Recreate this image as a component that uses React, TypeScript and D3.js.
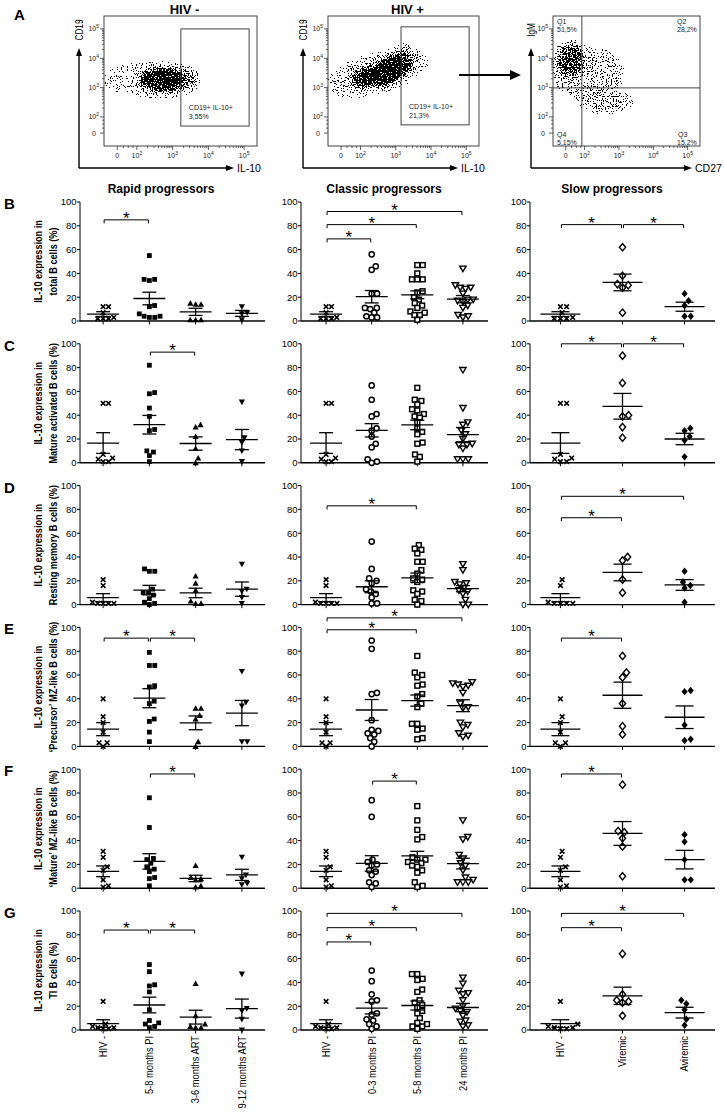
import React from "react";
import * as d3 from "d3";

// ---------- panel A (flow cytometry) ----------
const flowDomainX = [1.08, 5.36];
const flowDomainY = [1.01, 5.44];
const flowDecades = [2, 3, 4, 5];
const flowZero = 1.45;

const gateHivNeg = [3.23, 5.14, 1.69, 5.0];
const gateHivPos = [3.15, 5.08, 1.73, 5.07];
const gateTextHivNeg = ["CD19+ IL-10+", "3,55%"];
const gateTextHivPos = ["CD19+ IL-10+", "21,3%"];
const quadSplit = [1.92, 2.99];
const quadLabels = [
  ["Q1", "51,5%"],
  ["Q2", "28,2%"],
  ["Q3", "15,2%"],
  ["Q4", "5,15%"],
];

// event clouds: centre / spread in decades, rotation in degrees, density 0..1
const cloudHivNeg = [
  { cx: 2.72, cy: 3.27, rx: 0.55, ry: 0.3, rot: 0, a: 1 },
  { cx: 2.85, cy: 3.27, rx: 0.8, ry: 0.45, rot: 0, a: 0.36 },
  { cx: 2.45, cy: 3.27, rx: 1.35, ry: 0.55, rot: 0, a: 0.13 },
];
const cloudHivPos = [
  { cx: 2.85, cy: 3.6, rx: 0.6, ry: 0.38, rot: -30, a: 1 },
  { cx: 2.4, cy: 3.42, rx: 0.7, ry: 0.33, rot: -15, a: 0.7 },
  { cx: 2.5, cy: 3.5, rx: 1.45, ry: 0.65, rot: -15, a: 0.15 },
  { cx: 3.3, cy: 4.0, rx: 0.3, ry: 0.45, rot: 0, a: 0.22 },
];
const cloudQuad = [
  { cx: 1.6, cy: 3.95, rx: 0.42, ry: 0.55, rot: 0, a: 0.5 },
  { cx: 2.1, cy: 3.5, rx: 1.0, ry: 0.85, rot: 0, a: 0.16 },
  { cx: 2.6, cy: 2.55, rx: 0.75, ry: 0.35, rot: 0, a: 0.22 },
];

// ---------- panels B-G ----------
const rowLetters = ["B", "C", "D", "E", "F", "G"];
const yTitleTop = "IL-10 expression in";
const yTitleBottom = [
  "total B cells (%)",
  "Mature activated B cells (%)",
  "Resting memory B cells (%)",
  "\u2018Precursor\u2019 MZ-like B cells (%)",
  "\u2018Mature\u2019 MZ-like B cells (%)",
  "TI B cells (%)",
];
const rapidGroups = ["HIV -", "5-8 months PI", "3-6 months ART", "9-12 months ART"];
const classicGroups = ["HIV -", "0-3 months PI", "5-8 months PI", "24 months PI"];
const slowGroups = ["HIV -", "Viremic", "Aviremic"];
const yTicks = [0, 20, 40, 60, 80, 100];

// values per row B..G ; stats = [mean, sem]
const hivNeg = [
  [12, 12, 7, 3, 2, 2, 2],
  [50, 50, 7, 4, 3, 1, 1],
  [21, 16, 2, 1, 1, 1, 1],
  [40, 25, 20, 12, 3, 3, 0],
  [31, 26, 18, 15, 7, 2, 1],
  [24, 5, 3, 2, 2, 1, 1],
];
const hivNegStats = [[5.8, 2.0], [16.6, 8.7], [5.8, 3.4], [14.5, 5.5], [14.2, 4.5], [5.4, 3.2]];

const rapid58 = [
  [55, 35, 35, 34, 13, 12, 6, 4, 4, 3, 3],
  [82, 59, 58, 46, 39, 28, 27, 10, 9, 6, 1],
  [30, 28, 28, 13, 10, 10, 8, 5, 2, 1, 0],
  [79, 68, 68, 51, 50, 38, 36, 23, 21, 12, 4],
  [76, 51, 25, 24, 21, 18, 16, 14, 9, 8, 2],
  [55, 49, 38, 37, 32, 17, 8, 6, 5, 3, 2],
];
const rapid58Stats = [[18.9, 5.3], [32, 7.8], [12.2, 4], [40.5, 8], [22.5, 6.5], [21, 6.6]];

const rapid36 = [
  [15, 14, 14, 1, 1, 1],
  [32, 30, 22, 12, 4, 0],
  [24, 18, 12, 3, 1, 1],
  [32, 32, 26, 23, 4, 0],
  [19, 9, 8, 7, 2, 1],
  [39, 12, 5, 3, 2, 2],
];
const rapid36Stats = [[7.7, 3], [16.2, 5.6], [9.8, 4], [19.8, 5.8], [8.2, 2.7], [10.8, 5.8]];

const rapid912 = [
  [12, 7, 6, 1],
  [51, 21, 17, 10, 1],
  [34, 13, 11, 6, 1],
  [63, 37, 34, 4, 4],
  [26, 11, 8, 4, 3],
  [47, 18, 16, 9, 0],
];
const rapid912Stats = [[6.4, 2.5], [19.5, 8.5], [13, 6], [28, 10.6], [11.2, 4.7], [18, 8]];

const classic03 = [
  [56, 46, 43, 23, 23, 11, 11, 10, 7, 4, 3, 3],
  [65, 53, 41, 39, 29, 27, 22, 16, 13, 3, 1, 0],
  [53, 30, 22, 20, 18, 13, 11, 9, 6, 1, 1],
  [89, 82, 45, 44, 22, 14, 13, 11, 10, 7, 4, 0],
  [74, 60, 24, 22, 20, 19, 15, 14, 11, 5, 4, 1],
  [50, 41, 30, 25, 24, 14, 13, 9, 8, 5, 3, 1],
];
const classic03Stats = [[20.4, 5.2], [27.3, 5.6], [15, 5], [30.6, 8.8], [20.8, 6.5], [18.3, 4.8]];

const classic58 = [
  [47, 47, 40, 35, 35, 35, 25, 24, 20, 18, 15, 13, 11, 8, 7, 5, 5, 1],
  [63, 53, 52, 49, 45, 44, 41, 39, 38, 34, 29, 26, 24, 17, 16, 7, 5, 1],
  [50, 47, 46, 43, 36, 36, 29, 26, 22, 21, 19, 12, 11, 9, 4, 3, 0],
  [76, 62, 60, 58, 52, 51, 44, 42, 36, 33, 19, 19, 15, 14, 7, 6],
  [69, 57, 49, 43, 41, 26, 24, 24, 22, 21, 19, 18, 15, 13, 5, 2, 1],
  [47, 47, 43, 42, 34, 32, 25, 23, 21, 19, 16, 14, 10, 6, 5, 3, 3, 1],
];
const classic58Stats = [[22, 3.3], [31.8, 4], [22.5, 4], [38.5, 4.7], [27.2, 3.8], [20.6, 3.8]];

const classic24 = [
  [44, 30, 28, 28, 27, 23, 18, 18, 17, 16, 13, 11, 5, 4, 3],
  [78, 46, 34, 32, 27, 24, 20, 16, 15, 15, 12, 3, 3, 3],
  [34, 29, 19, 18, 17, 14, 12, 11, 9, 4, 0, 0],
  [54, 53, 52, 51, 50, 45, 36, 33, 32, 20, 18, 16, 11, 9, 8],
  [57, 43, 41, 28, 25, 21, 19, 15, 9, 7, 5, 5, 5],
  [44, 39, 33, 31, 30, 25, 20, 18, 16, 15, 12, 8, 7, 4, 3],
];
const classic24Stats = [[18.4, 3], [23.7, 6], [13.4, 2.6], [34.2, 5], [20.7, 4.5], [18.9, 3.5]];

const slowViremic = [
  [62, 38, 31, 30, 28, 7],
  [90, 67, 40, 39, 30, 21],
  [40, 37, 21, 10],
  [76, 62, 58, 36, 17, 10],
  [87, 48, 47, 42, 35, 10],
  [64, 30, 25, 24, 23, 12],
];
const slowViremicStats = [[32.4, 7], [47.5, 10.8], [27, 7], [43, 11], [46, 10], [28.7, 7.3]];

const slowAviremic = [
  [23, 17, 13, 4, 4],
  [29, 27, 22, 19, 5],
  [28, 19, 16, 14, 2],
  [47, 46, 18, 6, 5],
  [45, 39, 24, 7, 7],
  [25, 22, 17, 9, 4],
];
const slowAviremicStats = [[12, 3.8], [20, 4.8], [16.5, 4.5], [24.5, 9.5], [24, 7.8], [14.6, 4.5]];

// significance brackets: [group a, group b, level]
const rapidBrackets = [[[0, 1, 85]], [[1, 2, 93]], [], [[0, 1, 91], [1, 2, 91]], [[1, 2, 96]], [[0, 1, 84], [1, 2, 84]]];
const classicBrackets = [
  [[0, 1, 69], [0, 2, 81], [0, 3, 92]],
  [],
  [[0, 2, 83]],
  [[0, 2, 98], [0, 3, 108]],
  [[1, 2, 90]],
  [[0, 1, 74], [0, 2, 86], [0, 3, 98]],
];
const slowBrackets = [
  [[0, 1, 81], [1, 2, 81]],
  [[0, 1, 100], [1, 2, 100]],
  [[0, 1, 73], [0, 2, 91]],
  [[0, 1, 91]],
  [[0, 1, 96]],
  [[0, 1, 86], [0, 2, 98]],
];

const FONT = "'Liberation Sans', Arial, Helvetica, sans-serif";

function swarm(ys: number[], D: number): number[] {
  const order = ys.map((_, i) => i).sort((a, b) => ys[b] - ys[a]);
  const placed: { x: number; y: number }[] = [];
  const xs = new Array(ys.length).fill(0);
  for (const i of order) {
    const y = ys[i];
    const near = placed.filter((p) => Math.abs(p.y - y) < D);
    const cands = [0];
    near.forEach((p) => {
      const dx = Math.sqrt(D * D - (p.y - y) ** 2);
      cands.push(p.x + dx, p.x - dx);
    });
    cands.sort((a, b) => Math.abs(a) - Math.abs(b));
    const ok = cands.find((c) => near.every((p) => (p.x - c) ** 2 + (p.y - y) ** 2 >= D * D - 0.01));
    xs[i] = ok ?? 0;
    placed.push({ x: xs[i], y });
  }
  return xs;
}

function Marker({ type, x, y }: { type: string; x: number; y: number }) {
  const t = `translate(${x},${y})`;
  switch (type) {
    case "cross":
      return <path transform={t} d="M-2.3,-2.3L2.3,2.3M-2.3,2.3L2.3,-2.3" stroke="#000" strokeWidth={1.6} />;
    case "sqFill":
      return <rect transform={t} x={-2.4} y={-2.4} width={4.8} height={4.8} fill="#000" />;
    case "triUp":
      return <path transform={t} d="M0,-3.1L3.1,2.5L-3.1,2.5Z" fill="#000" />;
    case "triDown":
      return <path transform={t} d="M0,3.1L3.1,-2.5L-3.1,-2.5Z" fill="#000" />;
    case "circOpen":
      return <circle transform={t} r={2.6} fill="#fff" stroke="#000" strokeWidth={1.5} />;
    case "sqOpen":
      return <rect transform={t} x={-2.4} y={-2.4} width={4.8} height={4.8} fill="#fff" stroke="#000" strokeWidth={1.5} />;
    case "triDownOpen":
      return <path transform={t} d="M0,3L3.2,-2.5L-3.2,-2.5Z" fill="#fff" stroke="#000" strokeWidth={1.4} />;
    case "diaOpen":
      return <path transform={t} d="M0,-3.7L3.1,0L0,3.7L-3.1,0Z" fill="#fff" stroke="#000" strokeWidth={1.4} />;
    default:
      return <path transform={t} d="M0,-3.7L3.1,0L0,3.7L-3.1,0Z" fill="#000" />;
  }
}

const columns = [
  {
    title: "Rapid progressors",
    titleX: 161,
    groups: rapidGroups,
    range: [80, 265],
    pad: 0.5,
    meanHalf: 16,
    capHalf: 7,
    D: 5.4,
    series: [
      { vals: hivNeg, stats: hivNegStats, marker: "cross" },
      { vals: rapid58, stats: rapid58Stats, marker: "sqFill" },
      { vals: rapid36, stats: rapid36Stats, marker: "triUp" },
      { vals: rapid912, stats: rapid912Stats, marker: "triDown" },
    ],
    brackets: rapidBrackets,
  },
  {
    title: "Classic progressors",
    titleX: 384,
    groups: classicGroups,
    range: [301, 488],
    pad: 0.55,
    meanHalf: 16,
    capHalf: 7,
    D: 5.4,
    series: [
      { vals: hivNeg, stats: hivNegStats, marker: "cross" },
      { vals: classic03, stats: classic03Stats, marker: "circOpen" },
      { vals: classic58, stats: classic58Stats, marker: "sqOpen" },
      { vals: classic24, stats: classic24Stats, marker: "triDownOpen" },
    ],
    brackets: classicBrackets,
  },
  {
    title: "Slow progressors",
    titleX: 612,
    groups: slowGroups,
    range: [530, 715],
    pad: 0.49,
    meanHalf: 20,
    capHalf: 9,
    D: 6.2,
    series: [
      { vals: hivNeg, stats: hivNegStats, marker: "cross" },
      { vals: slowViremic, stats: slowViremicStats, marker: "diaOpen" },
      { vals: slowAviremic, stats: slowAviremicStats, marker: "diaFill" },
    ],
    brackets: slowBrackets,
  },
];

type Cloud = { cx: number; cy: number; rx: number; ry: number; rot: number; a: number };

function LogLabel({ x, y, d, anchor }: { x: number; y: number; d: number; anchor: string }) {
  return (
    <text x={x} y={y} fontSize={7} textAnchor={anchor} fill="#222">
      10<tspan dy={-3} fontSize={5}>{d}</tspan>
    </text>
  );
}

function FlowPlot(props: {
  id: string;
  x: number;
  y: number;
  w: number;
  h: number;
  clouds: Cloud[];
  seed: number;
  title?: string;
  gate?: number[];
  gateText?: string[];
  quad?: number[];
  yLabel: string;
  xLabel: string;
  arrowX: number;
  arrowEnd: number;
}) {
  const { id, x, y, w, h, clouds } = props;
  const sx = d3.scaleLinear().domain(flowDomainX).range([x, x + w]);
  const sy = d3.scaleLinear().domain(flowDomainY).range([y + h, y]);
  const pxX = w / (flowDomainX[1] - flowDomainX[0]);
  const pxY = h / (flowDomainY[1] - flowDomainY[0]);
  const minor = [1.62, 1.76, 1.89].concat(
    d3.range(2, 5).flatMap((d) => d3.range(2, 10).map((k) => d + Math.log10(k)))
  );
  const major = [flowZero, ...flowDecades];
  const ay = 168;
  return (
    <g>
      <defs>
        <clipPath id={`clip-${id}`}>
          <rect x={x} y={y} width={w} height={h} />
        </clipPath>
        <filter
          id={`st-${id}`}
          filterUnits="userSpaceOnUse"
          x={x - 10}
          y={y - 10}
          width={w + 20}
          height={h + 20}
          colorInterpolationFilters="sRGB"
        >
          <feGaussianBlur in="SourceAlpha" stdDeviation={3.2} result="blur" />
          <feComponentTransfer in="blur" result="dens">
            <feFuncA type="linear" slope={1.3} intercept={0} />
          </feComponentTransfer>
          <feTurbulence type="fractalNoise" baseFrequency={0.8} numOctaves={2} seed={props.seed} result="noise" />
          <feColorMatrix
            in="noise"
            type="matrix"
            values="0 0 0 0 0  0 0 0 0 0  0 0 0 0 0  3 0 0 0 -1"
            result="na"
          />
          <feComposite in="dens" in2="na" operator="arithmetic" k1={0} k2={1} k3={-1} k4={0.45} result="diff" />
          <feComponentTransfer in="diff" result="th">
            <feFuncA type="discrete" tableValues="0 1" />
          </feComponentTransfer>
          <feColorMatrix in="th" type="matrix" values="0 0 0 0 0  0 0 0 0 0  0 0 0 0 0  0 0 0 1 0" />
        </filter>
      </defs>
      <g clipPath={`url(#clip-${id})`}>
        <g filter={`url(#st-${id})`}>
          {clouds.map((c, i) => (
            <ellipse
              key={i}
              cx={sx(c.cx)}
              cy={sy(c.cy)}
              rx={c.rx * pxX}
              ry={c.ry * pxY}
              transform={`rotate(${c.rot},${sx(c.cx)},${sy(c.cy)})`}
              fill="#000"
              fillOpacity={c.a}
            />
          ))}
        </g>
      </g>
      <rect x={x} y={y} width={w} height={h} fill="none" stroke="#444" strokeWidth={1} />
      {props.gate && (
        <g>
          <rect
            x={sx(props.gate[0])}
            y={sy(props.gate[3])}
            width={sx(props.gate[1]) - sx(props.gate[0])}
            height={sy(props.gate[2]) - sy(props.gate[3])}
            fill="none"
            stroke="#444"
            strokeWidth={1}
          />
          <text x={sx(props.gate[0]) + 8} y={sy(props.gate[2]) - 16} fontSize={7} fill="#222">
            {props.gateText![0]}
          </text>
          <text x={sx(props.gate[0]) + 8} y={sy(props.gate[2]) - 7} fontSize={7} fill="#222">
            {props.gateText![1]}
          </text>
        </g>
      )}
      {props.quad && (
        <g fontSize={7} fill="#222">
          <line x1={sx(props.quad[0])} x2={sx(props.quad[0])} y1={y} y2={y + h} stroke="#444" />
          <line x1={x} x2={x + w} y1={sy(props.quad[1])} y2={sy(props.quad[1])} stroke="#444" />
          <text x={x + 4} y={y + 8}>{quadLabels[0][0]}</text>
          <text x={x + 4} y={y + 16}>{quadLabels[0][1]}</text>
          <text x={x + w - 23} y={y + 8}>{quadLabels[1][0]}</text>
          <text x={x + w - 23} y={y + 16}>{quadLabels[1][1]}</text>
          <text x={x + w - 22} y={y + h - 9}>{quadLabels[2][0]}</text>
          <text x={x + w - 23} y={y + h - 1.5}>{quadLabels[2][1]}</text>
          <text x={x + 4} y={y + h - 9}>{quadLabels[3][0]}</text>
          <text x={x + 4} y={y + h - 1.5}>{quadLabels[3][1]}</text>
        </g>
      )}
      {/* ticks */}
      <g stroke="#333" strokeWidth={0.8}>
        {major.map((v) => (
          <line key={`ly${v}`} x1={x - 4} x2={x} y1={sy(v)} y2={sy(v)} />
        ))}
        {minor.map((v) => (
          <line key={`my${v}`} x1={x - 2} x2={x} y1={sy(v)} y2={sy(v)} />
        ))}
        {major.map((v) => (
          <line key={`lx${v}`} x1={sx(v)} x2={sx(v)} y1={y + h} y2={y + h + 4} />
        ))}
        {minor.map((v) => (
          <line key={`mx${v}`} x1={sx(v)} x2={sx(v)} y1={y + h} y2={y + h + 2} />
        ))}
      </g>
      {flowDecades.map((d) => (
        <LogLabel key={`yl${d}`} x={x - 5} y={sy(d) + 2.5} d={d} anchor="end" />
      ))}
      <text x={x - 8} y={sy(flowZero) + 2.5} fontSize={7} textAnchor="end" fill="#222">0</text>
      {flowDecades.map((d) => (
        <LogLabel key={`xl${d}`} x={sx(d)} y={y + h + 12} d={d} anchor="middle" />
      ))}
      <text x={sx(flowZero)} y={y + h + 12} fontSize={7} textAnchor="middle" fill="#222">0</text>
      {/* outer axis arrows */}
      <line x1={props.arrowX} x2={props.arrowX} y1={ay} y2={54} stroke="#000" strokeWidth={1.4} />
      <path d={`M${props.arrowX},48L${props.arrowX - 3},56L${props.arrowX + 3},56Z`} fill="#000" />
      <line x1={props.arrowX} x2={props.arrowEnd - 5} y1={ay} y2={ay} stroke="#000" strokeWidth={1.4} />
      <path d={`M${props.arrowEnd},${ay}L${props.arrowEnd - 8},${ay - 3}L${props.arrowEnd - 8},${ay + 3}Z`} fill="#000" />
      <text
        transform={`translate(${props.arrowX},30) rotate(-90) scale(0.75,1)`}
        fontSize={11}
        textAnchor="middle"
        dy="0.35em"
      >
        {props.yLabel}
      </text>
      <text x={props.arrowEnd + 3} y={ay} dy="0.35em" fontSize={10.5}>
        {props.xLabel}
      </text>
      {props.title && (
        <text x={x + w / 2 + 4} y={14} fontSize={13} fontWeight="bold" textAnchor="middle">
          {props.title}
        </text>
      )}
    </g>
  );
}

export default function App() {
  const rowStep = 141.8;
  const plotH = 119;
  return (
    <svg
      width={724}
      height={1112}
      style={{ position: "absolute", left: 0, top: 0, background: "#fff" }}
      fontFamily={FONT}
    >
      <rect width={724} height={1112} fill="#fff" />
      <text x={14} y={20} fontSize={15} fontWeight="bold">A</text>
      <FlowPlot id="p1" x={104} y={16} w={153} h={130} clouds={cloudHivNeg} seed={3} title="HIV -"
        gate={gateHivNeg} gateText={gateTextHivNeg} yLabel="CD19" xLabel="IL-10" arrowX={79} arrowEnd={234} />
      <FlowPlot id="p2" x={328} y={16} w={151} h={130} clouds={cloudHivPos} seed={7} title="HIV +"
        gate={gateHivPos} gateText={gateTextHivPos} yLabel="CD19" xLabel="IL-10" arrowX={303} arrowEnd={458} />
      <FlowPlot id="p3" x={553} y={16} w={147} h={130} clouds={cloudQuad} seed={11}
        quad={quadSplit} yLabel="IgM" xLabel="CD27" arrowX={531} arrowEnd={692} />
      {/* gating arrow */}
      <line x1={459} x2={512} y1={75} y2={75} stroke="#000" strokeWidth={2} />
      <path d="M521,75L510,70L510,80Z" fill="#000" />

      {columns.map((col) => (
        <text key={col.title} x={col.titleX} y={193} fontSize={12} fontWeight="bold" textAnchor="middle">
          {col.title}
        </text>
      ))}

      {rowLetters.map((letter, r) => {
        const zero = 321 + r * rowStep;
        const ys = d3.scaleLinear().domain([0, 100]).range([zero, zero - plotH]);
        const midY = zero - plotH / 2;
        return (
          <g key={letter}>
            <text x={4} y={zero - plotH + 7} fontSize={15} fontWeight="bold">{letter}</text>
            <text transform={`translate(38,${midY}) rotate(-90) scale(0.83,1)`} fontSize={11}
              fontWeight="bold" textAnchor="middle" dy="0.35em">{yTitleTop}</text>
            <text transform={`translate(53,${midY}) rotate(-90) scale(0.83,1)`} fontSize={11}
              fontWeight="bold" textAnchor="middle" dy="0.35em">{yTitleBottom[r]}</text>
            {columns.map((col) => {
              const xs = d3.scalePoint<string>().domain(col.groups).range(col.range as [number, number]).padding(col.pad);
              const x0 = col.range[0];
              return (
                <g key={col.title}>
                  {/* y axis */}
                  <line x1={x0} x2={x0} y1={ys(0)} y2={ys(100)} stroke="#000" strokeWidth={1} />
                  {yTicks.map((t) => (
                    <g key={t}>
                      <line x1={x0 - 3} x2={x0} y1={ys(t)} y2={ys(t)} stroke="#000" strokeWidth={1} />
                      <text x={x0 - 3.5} y={ys(t)} dy="0.35em" fontSize={9.5} textAnchor="end">{t}</text>
                    </g>
                  ))}
                  {/* x axis */}
                  <line x1={x0} x2={col.range[1]} y1={zero} y2={zero} stroke="#000" strokeWidth={1.4} />
                  {col.groups.map((g) => (
                    <line key={g} x1={xs(g)!} x2={xs(g)!} y1={zero} y2={zero + 3.5} stroke="#000" strokeWidth={1} />
                  ))}
                  {/* points */}
                  {col.series.map((s, gi) => {
                    const cx = xs(col.groups[gi])!;
                    const py = s.vals[r].map((v) => ys(v));
                    const off = swarm(py, col.D);
                    const [m, se] = s.stats[r];
                    return (
                      <g key={gi}>
                        {py.map((yy, k) => (
                          <Marker key={k} type={s.marker} x={cx + off[k]} y={yy} />
                        ))}
                        <g stroke="#000" strokeWidth={1.3}>
                          <line x1={cx - col.meanHalf} x2={cx + col.meanHalf} y1={ys(m)} y2={ys(m)} />
                          <line x1={cx} x2={cx} y1={ys(m + se)} y2={ys(m - se)} />
                          <line x1={cx - col.capHalf} x2={cx + col.capHalf} y1={ys(m + se)} y2={ys(m + se)} />
                          <line x1={cx - col.capHalf} x2={cx + col.capHalf} y1={ys(m - se)} y2={ys(m - se)} />
                        </g>
                      </g>
                    );
                  })}
                  {/* significance */}
                  {col.brackets[r].map(([a, b, lvl], bi) => {
                    const xa = xs(col.groups[a])! + 1;
                    const xb = xs(col.groups[b])! - 1;
                    const yy = ys(lvl);
                    return (
                      <g key={bi}>
                        <path d={`M${xa},${yy + 3.5}V${yy}H${xb}V${yy + 3.5}`} fill="none" stroke="#000" strokeWidth={1} />
                        <text x={(xa + xb) / 2} y={yy + 4} fontSize={17} textAnchor="middle">*</text>
                      </g>
                    );
                  })}
                  {/* category labels on the bottom row */}
                  {r === rowLetters.length - 1 &&
                    col.groups.map((g) => (
                      <text key={g} transform={`translate(${xs(g)},${zero + 6}) rotate(-90) scale(0.85,1)`}
                        fontSize={11} textAnchor="end" dy="0.35em">{g}</text>
                    ))}
                </g>
              );
            })}
          </g>
        );
      })}
    </svg>
  );
}
